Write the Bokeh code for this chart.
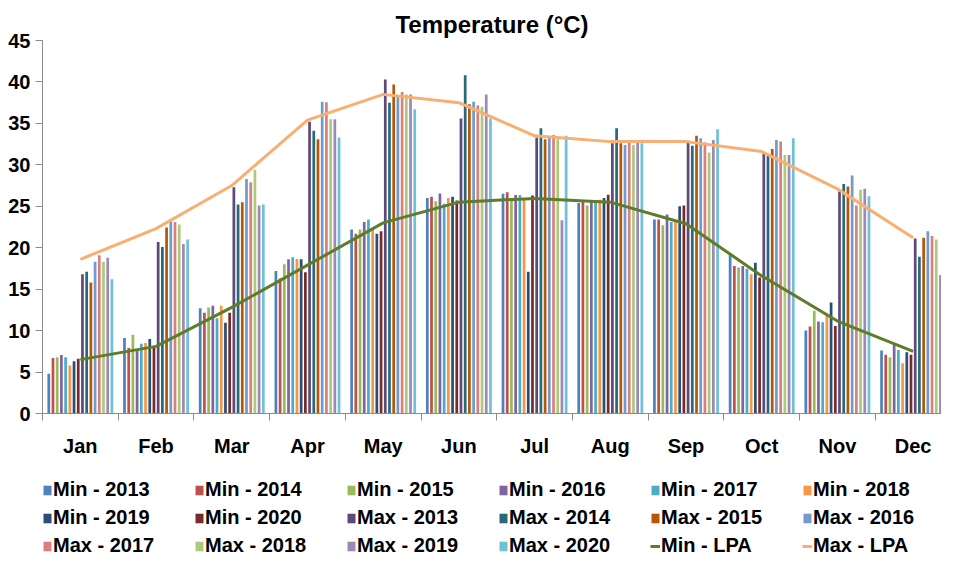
from bokeh.plotting import figure
from bokeh.layouts import column
from bokeh.models import Range1d, LinearAxis, FixedTicker, Legend, LegendItem
from bokeh.embed import file_html
from bokeh.resources import INLINE

months = ["Jan", "Feb", "Mar", "Apr", "May", "Jun", "Jul", "Aug", "Sep", "Oct", "Nov", "Dec"]

min_2013 = [4.8, 9.1, 12.7, 17.2, 22.2, 26.0, 26.5, 25.4, 23.4, 19.3, 10.0, 7.6]
min_2014 = [6.7, 7.9, 12.15, 16.3, 21.7, 26.15, 26.7, 25.55, 23.4, 17.8, 10.5, 7.1]
min_2015 = [6.8, 9.5, 12.8, 18.0, 22.2, 25.6, 26.0, 25.1, 22.7, 17.6, 12.4, 6.8]
min_2016 = [7.05, 7.7, 13.0, 18.6, 23.1, 26.55, 26.35, 25.55, 24.0, 17.8, 11.1, 8.3]
min_2017 = [6.8, 8.4, 11.5, 18.85, 23.4, 25.3, 26.35, 25.55, 23.1, 17.45, 11.0, 7.65]
min_2018 = [5.8, 8.5, 13.0, 18.65, 22.4, 26.0, 25.8, 25.8, 23.15, 16.8, 11.9, 6.05]
min_2019 = [6.3, 9.0, 10.95, 18.6, 21.7, 26.15, 17.1, 26.0, 25.0, 18.2, 13.4, 7.4]
min_2020 = [6.6, 7.9, 12.15, 17.05, 22.0, 25.7, 26.3, 26.4, 25.1, 16.4, 10.55, 7.1]
max_2013 = [16.8, 20.7, 27.3, 35.2, 40.3, 35.6, 33.3, 32.6, 32.9, 31.4, 26.8, 21.1]
max_2014 = [17.1, 20.1, 25.2, 34.1, 37.5, 40.8, 34.4, 34.4, 32.3, 31.1, 27.7, 18.9]
max_2015 = [15.8, 22.45, 25.5, 33.1, 39.7, 37.3, 33.1, 32.6, 33.5, 31.9, 27.4, 21.2]
max_2016 = [18.3, 23.2, 28.3, 37.6, 38.2, 37.6, 33.3, 32.4, 33.2, 33.0, 28.7, 22.0]
max_2017 = [19.1, 23.1, 27.9, 37.55, 38.8, 37.2, 33.6, 32.9, 32.7, 32.8, 25.1, 21.4]
max_2018 = [18.3, 22.8, 29.4, 35.5, 38.5, 37.0, 33.1, 32.4, 31.5, 31.2, 27.0, 21.0]
max_2019 = [18.8, 20.45, 25.1, 35.5, 38.5, 38.5, 23.3, 32.9, 33.0, 31.2, 27.1, 16.7]
max_2020 = [16.2, 21.0, 25.2, 33.3, 36.7, 35.6, 33.5, 32.6, 34.3, 33.2, 26.2, 17.0]
min_lpa = [6.5, 8.1, 12.8, 17.9, 23.0, 25.5, 25.95, 25.5, 22.9, 16.6, 11.15, 7.5]
max_lpa = [18.6, 22.3, 27.5, 35.4, 38.5, 37.5, 33.5, 32.8, 32.8, 31.6, 27.1, 21.2]

bar_series = [
    ("Min - 2013", min_2013, "#4F81BD"),
    ("Min - 2014", min_2014, "#C0504D"),
    ("Min - 2015", min_2015, "#9BBB59"),
    ("Min - 2016", min_2016, "#8064A2"),
    ("Min - 2017", min_2017, "#4BACC6"),
    ("Min - 2018", min_2018, "#F79646"),
    ("Min - 2019", min_2019, "#2C4D75"),
    ("Min - 2020", min_2020, "#772C2A"),
    ("Max - 2013", max_2013, "#5F497A"),
    ("Max - 2014", max_2014, "#276A7C"),
    ("Max - 2015", max_2015, "#B65708"),
    ("Max - 2016", max_2016, "#729ACA"),
    ("Max - 2017", max_2017, "#D7807E"),
    ("Max - 2018", max_2018, "#AFC97A"),
    ("Max - 2019", max_2019, "#9D89B8"),
    ("Max - 2020", max_2020, "#70C1D6"),
]
line_series = [
    ("Min - LPA", min_lpa, "#5E7C2A"),
    ("Max - LPA", max_lpa, "#F9AF72"),
]

FONT = "Liberation Sans"
AXIS_COLOR = "#8C8C8C"

p = figure(frame_width=899, frame_height=373, output_backend="svg", toolbar_location=None,
           x_range=Range1d(0, 11.875), y_range=Range1d(0, 45),
           x_axis_type=None, y_axis_type=None, title="Temperature (°C)")
p.outline_line_color = None
p.min_border_left = 42
p.min_border_right = 0
p.min_border_top = 40
p.min_border_bottom = 0
p.title.align = "center"
p.title.text_font = FONT
p.title.text_font_style = "bold"
p.title.text_font_size = "24px"
p.title.text_color = "black"
p.title.standoff = 6

yaxis = LinearAxis(ticker=FixedTicker(ticks=list(range(0, 50, 5))))
yaxis.axis_line_color = AXIS_COLOR
yaxis.major_tick_line_color = AXIS_COLOR
yaxis.major_tick_out = 7
yaxis.major_tick_in = 0
yaxis.minor_tick_line_color = None
yaxis.major_label_standoff = 5
yaxis.major_label_text_font = FONT
yaxis.major_label_text_font_style = "bold"
yaxis.major_label_text_font_size = "20px"
yaxis.major_label_text_color = "black"
p.add_layout(yaxis, "left")

centers = [i + 0.5 for i in range(len(months))]
bounds = [float(i) for i in range(len(months) + 1)]
xaxis = LinearAxis(ticker=FixedTicker(ticks=centers, minor_ticks=bounds))
xaxis.major_label_overrides = {c: m for c, m in zip(centers, months)}
xaxis.axis_line_color = AXIS_COLOR
xaxis.major_tick_line_color = None
xaxis.major_tick_out = 0
xaxis.major_tick_in = 0
xaxis.minor_tick_line_color = AXIS_COLOR
xaxis.minor_tick_out = 7
xaxis.minor_tick_in = 0
xaxis.major_label_standoff = 14
xaxis.major_label_text_font = FONT
xaxis.major_label_text_font_style = "bold"
xaxis.major_label_text_font_size = "20px"
xaxis.major_label_text_color = "black"
p.add_layout(xaxis, "below")

pitch = 0.0556
bw = 0.036
n = len(bar_series)
for j, (name, vals, color) in enumerate(bar_series):
    xs = [i + 0.5 + (j - (n - 1) / 2) * pitch for i in range(len(months))]
    p.vbar(x=xs, top=vals, width=bw, fill_color=color, line_color=None)
for name, vals, color in line_series:
    p.line(x=centers, y=vals, line_color=color, line_width=3)

# legend panel: a separate figure below the chart; its renderers carry the same
# series but lie outside that figure's visible x range, so only the legend shows
pl = figure(width=941, height=96, output_backend="svg", toolbar_location=None,
            x_range=Range1d(-3, -2), y_range=Range1d(0, 45),
            x_axis_type=None, y_axis_type=None)
pl.outline_line_color = None
pl.min_border_left = 31
pl.min_border_right = 0
pl.min_border_top = 19
pl.min_border_bottom = 0
items = []
for name, vals, color in bar_series:
    r = pl.vbar(x=centers, top=vals, width=bw, fill_color=color, line_color=None)
    items.append(LegendItem(label=name, renderers=[r]))
for name, vals, color in line_series:
    r = pl.line(x=centers, y=vals, line_color=color, line_width=3)
    items.append(LegendItem(label=name, renderers=[r]))

legend = Legend(items=items, ncols=6, orientation="horizontal", location="top_left")
legend.border_line_color = None
legend.background_fill_alpha = 0
legend.label_text_font = FONT
legend.label_text_font_style = "bold"
legend.label_text_font_size = "20px"
legend.label_text_color = "black"
legend.glyph_width = 10
legend.glyph_height = 12
legend.label_height = 22
legend.label_standoff = 1
legend.label_width = 136
legend.spacing = 5
legend.padding = 0
legend.margin = 0
pl.add_layout(legend, "center")

layout = column(p, pl, spacing=0)
open("out.html", "w").write(file_html(layout, INLINE))
